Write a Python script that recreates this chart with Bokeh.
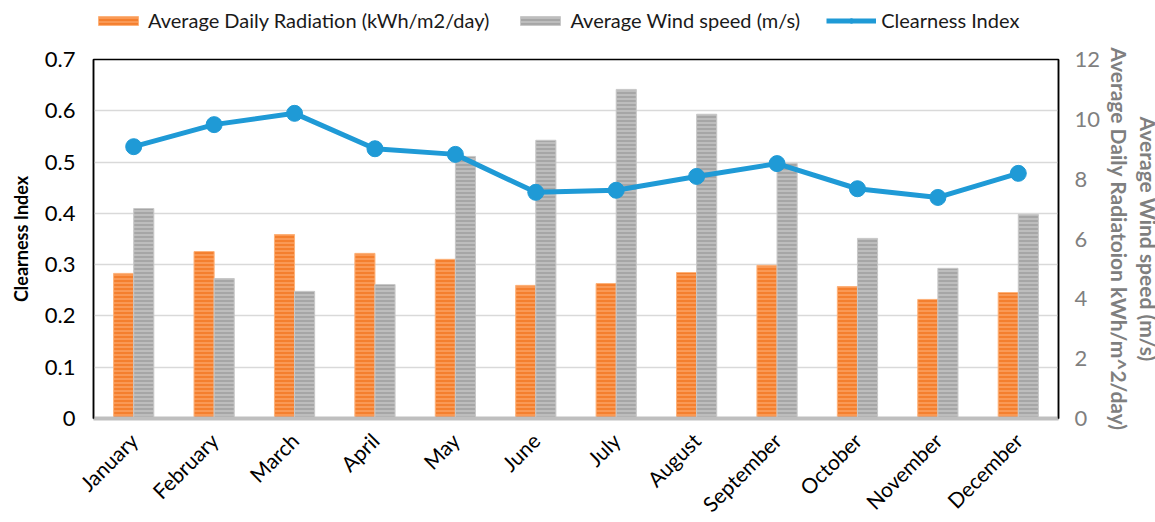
from bokeh.plotting import figure
from bokeh.models import (LinearAxis, Range1d, Legend, LegendItem, FixedTicker,
                          FactorRange, ColumnDataSource)
from bokeh.layouts import column
from bokeh.transform import dodge
from bokeh.embed import file_html
from bokeh.resources import INLINE
import math

months = ["January", "February", "March", "April", "May", "June", "July",
          "August", "September", "October", "November", "December"]
radiation = [4.85, 5.58, 6.15, 5.52, 5.32, 4.45, 4.51, 4.88, 5.12, 4.41, 3.98, 4.21]
wind = [7.02, 4.68, 4.25, 4.48, 8.76, 9.30, 11.0, 10.17, 8.53, 6.02, 5.02, 6.82]
clearness = [0.530, 0.573, 0.595, 0.526, 0.515, 0.441, 0.445, 0.472, 0.497, 0.448, 0.431, 0.478]
left_ticks = [0, 0.1, 0.2, 0.3, 0.4, 0.5, 0.6, 0.7]
right_ticks = [0, 2, 4, 6, 8, 10, 12]

src = ColumnDataSource(dict(m=months, rad=radiation, wind=wind, ci=clearness))

FONT = "Lato"
ORANGE = dict(fill_color="#F47F2E", line_color="#FDB27A", line_width=1,
              hatch_pattern="horizontal_line", hatch_color="#FFB37C", hatch_scale=4, hatch_weight=1)
GRAY = dict(fill_color="#A6A6A6", line_color="#C8C8C8", line_width=1,
            hatch_pattern="horizontal_line", hatch_color="#D4D4D4", hatch_scale=4, hatch_weight=1)
BLUE = "#1F9AD6"

xr = FactorRange(*months)


def add_series(fig):
    a = fig.vbar(x=dodge("m", -0.125, range=xr), top="rad", width=0.25, source=src,
                 y_range_name="r", **ORANGE)
    b = fig.vbar(x=dodge("m", 0.125, range=xr), top="wind", width=0.25, source=src,
                 y_range_name="r", **GRAY)
    c = fig.line(x="m", y="ci", source=src, line_color=BLUE, line_width=5)
    d = fig.scatter(x="m", y="ci", source=src, size=16, fill_color=BLUE, line_color=BLUE)
    return a, b, c, d


# ---------------- main chart ----------------
p = figure(frame_width=965, frame_height=359, x_range=xr,
           y_range=Range1d(0, 0.7), output_backend="svg", toolbar_location=None,
           min_border_left=93, min_border_right=96, min_border_top=15, min_border_bottom=102)
p.extra_y_ranges = {"r": Range1d(0, 12)}
add_series(p)

ya = p.yaxis[0]
ya.ticker = FixedTicker(ticks=left_ticks)
ya.major_label_overrides = {0: "0"}
ya.axis_label = "Clearness Index"
ya.axis_label_standoff = 10
ya.axis_label_text_font = FONT
ya.axis_label_text_font_style = "bold"
ya.axis_label_text_font_size = "18px"
ya.axis_label_text_color = "black"
ya.major_label_text_font = FONT
ya.major_label_text_font_size = "22px"
ya.major_label_text_color = "black"
ya.major_label_standoff = 18
ya.major_tick_line_color = None
ya.major_tick_out = 0
ya.minor_tick_line_color = None
ya.axis_line_color = "black"
ya.axis_line_width = 1.5

ra = LinearAxis(y_range_name="r", ticker=FixedTicker(ticks=right_ticks))
ra.axis_label = "Average Daily Radiatoion kWh/m^2/day)"
ra.axis_label_standoff = 4
ra.major_label_text_font = FONT
ra.major_label_text_font_size = "22px"
ra.major_label_text_color = "#7F7F7F"
ra.major_label_standoff = 16
ra.major_tick_out = 0
ra.major_tick_line_color = None
ra.minor_tick_line_color = None
ra.axis_line_color = "black"
ra.axis_line_width = 1.5
ra2 = LinearAxis(y_range_name="r", ticker=FixedTicker(ticks=right_ticks))
ra2.axis_label = "Average Wind speed (m/s)"
ra2.axis_label_standoff = 0
ra2.major_label_text_font_size = "1px"
ra2.major_label_text_color = None
ra2.major_label_standoff = 0
ra2.major_tick_out = 0
ra2.major_tick_line_color = None
ra2.minor_tick_line_color = None
ra2.axis_line_color = None
for a in (ra, ra2):
    a.axis_label_text_font = FONT
    a.axis_label_text_font_style = "bold"
    a.axis_label_text_font_size = "21px"
    a.axis_label_text_color = "#7F7F7F"
p.add_layout(ra, "right")
p.add_layout(ra2, "right")

xa = p.xaxis[0]
xa.major_label_orientation = math.pi / 4
xa.major_label_text_font = FONT
xa.major_label_text_font_size = "21px"
xa.major_label_text_color = "black"
xa.major_label_standoff = 18
xa.major_tick_line_color = None
xa.major_tick_out = 0
xa.axis_line_color = "#BFBFBF"
xa.axis_line_width = 4

p.xgrid.grid_line_color = None
p.ygrid.grid_line_color = "#D9D9D9"
p.ygrid.grid_line_width = 1.5
p.outline_line_color = "black"
p.outline_line_width = 1.5

# ---------------- legend strip (same frame geometry, series kept out of view) ----------------
lg = figure(frame_width=965, frame_height=36, x_range=xr, y_range=Range1d(100, 101),
            output_backend="svg", toolbar_location=None,
            x_axis_location=None, y_axis_location=None,
            min_border_left=93, min_border_right=96, min_border_top=8, min_border_bottom=0)
lg.extra_y_ranges = {"r": Range1d(100, 101)}
lg.grid.grid_line_color = None
lg.outline_line_color = None
r1, r2, r3, r4 = add_series(lg)

legend = Legend(items=[
    LegendItem(label="Average Daily Radiation (kWh/m2/day)", renderers=[r1]),
    LegendItem(label="Average Wind speed (m/s)", renderers=[r2]),
    LegendItem(label="Clearness Index", renderers=[r3, r4]),
], orientation="horizontal", location="top_left")
legend.label_text_font = FONT
legend.label_text_font_size = "20px"
legend.label_text_color = "#1a1a1a"
legend.glyph_width = 50
legend.glyph_height = 11
legend.spacing = 26
legend.label_standoff = 5
legend.border_line_color = None
legend.background_fill_alpha = 0
legend.padding = 4
legend.margin = 0
lg.add_layout(legend, "center")

layout = column(lg, p, spacing=0)
open("out.html", "w").write(file_html(layout, INLINE))
